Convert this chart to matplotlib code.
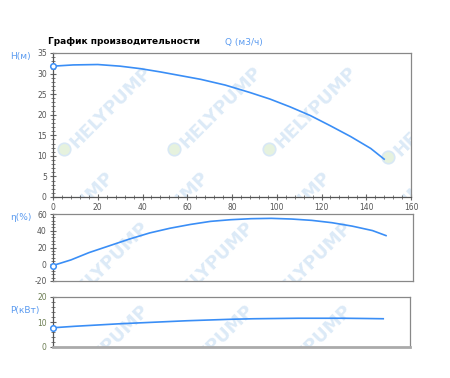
import matplotlib
matplotlib.use('Agg')
import matplotlib.pyplot as plt
from matplotlib.ticker import MultipleLocator

plt.rcParams['axes.unicode_minus'] = False

# values (Q in m3/h)
q_head = [0, 9, 20, 30, 39, 48, 57, 66, 77, 88, 97, 106, 115, 124, 133, 142, 148]
head = [31.8, 32.1, 32.2, 31.8, 31.2, 30.4, 29.5, 28.6, 27.2, 25.4, 23.8, 21.9, 19.8, 17.3, 14.7, 11.8, 9.2]

q_eff = [0, 8, 16, 25, 34, 43, 52, 61, 70, 79, 88, 97, 106, 115, 124, 133, 142, 148]
eff = [-1.5, 5.2, 13.9, 22, 30.1, 37.4, 43, 47.5, 51.2, 53.2, 54.4, 54.8, 54, 52.4, 49.6, 45.5, 40.2, 34.2]

q_pow = [0, 10, 20, 30, 40, 50, 60, 70, 80, 90, 100, 110, 120, 130, 140, 148]
power = [7.7, 8.3, 8.8, 9.3, 9.7, 10.1, 10.5, 10.8, 11.1, 11.3, 11.4, 11.5, 11.5, 11.5, 11.4, 11.3]

W, H = 450, 378
line_c = '#3a8ef6'
lab_c = '#5b9bf0'
tick_c = '#555555'

fig = plt.figure(figsize=(W / 100, H / 100), dpi=100)


def px_axes(left, top, right, bottom):
    return fig.add_axes([left / W, 1 - bottom / H, (right - left) / W, (bottom - top) / H])


ax1 = px_axes(53, 53, 411, 197)
ax2 = px_axes(53, 214, 413, 281)
ax3 = px_axes(53, 297, 410, 347)


def watermark(ax, centers):
    for cx, cy in centers:
        t = ax.text(cx / W, 1 - cy / H, 'HELYPUMP', transform=fig.transFigure,
                    rotation=45, ha='center', va='center', fontsize=13,
                    fontweight='bold', color='#dceaf7', zorder=0, clip_on=True)
        t.set_clip_path(ax.patch)
        m, = ax.plot([(cx - 47) / W], [1 - (cy + 42) / H], 'o', ms=9,
                     mfc='#e6f2de', mec='#d8e8f5', mew=1.2,
                     transform=fig.transFigure, zorder=0)
        m.set_clip_path(ax.patch)


watermark(ax1, [(111, 107), (221, 107), (316, 107), (435, 115),
                (73, 212), (168, 212), (290, 212), (395, 212)])
watermark(ax2, [(108, 262), (213, 262), (311, 262)])
watermark(ax3, [(108, 345), (213, 345), (311, 345)])

# curves
for ax, x, y in [(ax1, q_head, head), (ax2, q_eff, eff), (ax3, q_pow, power)]:
    ax.plot(x, y, color=line_c, lw=1.2, zorder=3, solid_joinstyle='round')
    ax.plot(x[0], y[0], 'o', ms=4, mfc='white', mec=line_c, mew=1.1, zorder=4, clip_on=False)
    ax.set_xlim(0, 160)

ax1.set_ylim(0, 35)
ax1.xaxis.set_major_locator(MultipleLocator(20))
ax1.xaxis.set_minor_locator(MultipleLocator(4))
ax1.yaxis.set_major_locator(MultipleLocator(5))
ax1.yaxis.set_minor_locator(MultipleLocator(1))

ax2.set_ylim(-20, 60)
ax2.yaxis.set_major_locator(MultipleLocator(20))
ax2.yaxis.set_minor_locator(MultipleLocator(4))
ax2.set_xticks([])

ax3.set_ylim(0, 20)
ax3.yaxis.set_major_locator(MultipleLocator(10))
ax3.yaxis.set_minor_locator(MultipleLocator(2))
ax3.set_xticks([])

for ax in (ax1, ax2, ax3):
    ax.tick_params(which='major', direction='inout', length=5, width=0.8,
                   color='#666666', labelsize=5.5, labelcolor=tick_c, pad=2)
    ax.tick_params(which='minor', direction='inout', length=2.5, width=0.6, color='#666666')
    for s in ax.spines.values():
        s.set_color('#888888')
        s.set_linewidth(0.9)
    ax.spines['left'].set_color('#555555')

ax1.spines['bottom'].set_color('#555555')
ax3.tick_params(axis='y', labelcolor='#6b7d52')
ax3.spines['bottom'].set_color('#aaaaaa')
ax3.spines['bottom'].set_linewidth(2)

# texts
fig.text(48 / W, 1 - 42 / H, 'График производительности', fontsize=6.5,
         fontweight='bold', color='black', va='center')
fig.text(225 / W, 1 - 42 / H, 'Q (м3/ч)', fontsize=6.5, color=lab_c, va='center')
fig.text(10 / W, 1 - 57 / H, 'H(м)', fontsize=6.5, color=lab_c, va='center')
fig.text(10 / W, 1 - 218 / H, 'η(%)', fontsize=6.5, color=lab_c, va='center')
fig.text(10 / W, 1 - 310 / H, 'P(кВт)', fontsize=6.5, color=lab_c, va='center')

fig.savefig('out.png', dpi=100)
